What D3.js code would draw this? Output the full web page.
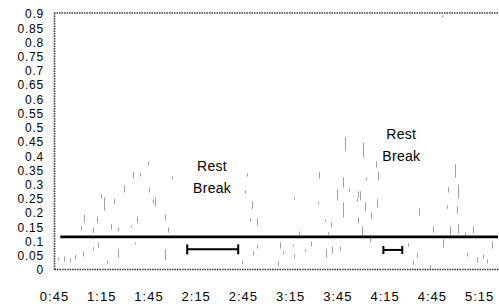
<!DOCTYPE html>
<html>
<head>
<meta charset="utf-8">
<script src="https://cdn.jsdelivr.net/npm/d3@7"></script>
<style>
  html, body { margin: 0; padding: 0; background: #fff; }
  svg { display: block; font-family: "Liberation Sans", Arial, Helvetica, sans-serif; }
</style>
</head>
<body>
<svg id="chart" width="499" height="306"></svg>
<script>
// ---- data ----
// x tick values in minutes of elapsed time, and their labels
const xTickValues = [45, 75, 105, 135, 165, 195, 225, 255, 285, 315];
const xTickLabels = ["0:45", "1:15", "1:45", "2:15", "2:45", "3:15", "3:45", "4:15", "4:45", "5:15"];
const yTickValues = [0, 0.05, 0.1, 0.15, 0.2, 0.25, 0.3, 0.35, 0.4, 0.45, 0.5, 0.55, 0.6, 0.65, 0.7, 0.75, 0.8, 0.85, 0.9];
const yTickLabels = ["0", "0.05", "0.1", "0.15", "0.2", "0.25", "0.3", "0.35", "0.4", "0.45", "0.5", "0.55", "0.6", "0.65", "0.7", "0.75", "0.8", "0.85", "0.9"];

// activity samples: time (min), low value, high value
const activityTime = [47.5, 51.4, 55.2, 58.4, 62.2, 63.4, 64.1, 69.8, 69.8, 72.3, 73.0, 74.9, 76.8, 78.7, 81.2, 83.1, 85.7, 85.7, 89.5, 94.0,
  95.2, 96.5, 97.8, 99.7, 104.8, 105.4, 107.9, 109.2, 115.6, 115.6, 117.5, 120.0, 164.5, 166.4, 167.7, 169.6, 170.9, 171.5, 174.1, 174.1,
  187.4, 188.7, 190.6, 196.9, 197.6, 197.6, 200.8, 204.6, 208.4, 212.8, 213.5, 217.3, 217.9, 219.2, 221.1, 221.7, 224.9, 226.8, 228.7, 228.7,
  230.0, 232.5, 237.6, 238.3, 238.3, 239.5, 240.8, 241.4, 242.7, 243.3, 245.9, 246.5, 249.7, 250.3, 251.0, 270.0, 273.2, 275.8, 277.0, 284.0,
  285.9, 292.3, 294.8, 295.5, 296.7, 299.9, 301.8, 301.2, 301.8, 306.3, 307.6, 311.4, 313.9, 317.7, 320.3, 323.4, 291.7];
const activityLow = [0.032, 0.028, 0.025, 0.035, 0.137, 0.046, 0.165, 0.130, 0.067, 0.165, 0.077, 0.250, 0.207, 0.021, 0.141, 0.232, 0.134, 0.042, 0.271, 0.148,
  0.320, 0.088, 0.165, 0.327, 0.366, 0.271, 0.232, 0.222, 0.172, 0.032, 0.130, 0.316, 0.018, 0.267, 0.327, 0.169, 0.214, 0.049, 0.155, 0.074,
  0.011, 0.074, 0.053, 0.081, 0.246, 0.039, 0.120, 0.063, 0.081, 0.229, 0.320, 0.169, 0.042, 0.123, 0.148, 0.056, 0.243, 0.067, 0.288, 0.183,
  0.418, 0.274, 0.239, 0.253, 0.162, 0.243, 0.113, 0.394, 0.207, 0.313, 0.095, 0.179, 0.359, 0.218, 0.313, 0.081, 0.018, 0.042, 0.190, 0.004,
  0.130, 0.077, 0.214, 0.271, 0.120, 0.323, 0.250, 0.197, 0.127, 0.113, 0.046, 0.127, 0.025, 0.039, 0.021, 0.074, 0.886];
const activityHigh = [0.039, 0.042, 0.035, 0.046, 0.148, 0.060, 0.190, 0.144, 0.074, 0.183, 0.091, 0.260, 0.250, 0.028, 0.155, 0.243, 0.144, 0.067, 0.292, 0.151,
  0.338, 0.091, 0.183, 0.334, 0.376, 0.285, 0.243, 0.250, 0.190, 0.067, 0.144, 0.323, 0.025, 0.274, 0.334, 0.176, 0.236, 0.060, 0.176, 0.084,
  0.025, 0.091, 0.060, 0.084, 0.250, 0.049, 0.130, 0.067, 0.095, 0.232, 0.338, 0.172, 0.067, 0.127, 0.162, 0.077, 0.278, 0.077, 0.320, 0.232,
  0.461, 0.281, 0.246, 0.271, 0.179, 0.271, 0.148, 0.443, 0.232, 0.320, 0.109, 0.197, 0.376, 0.243, 0.341, 0.088, 0.025, 0.056, 0.211, 0.011,
  0.148, 0.102, 0.221, 0.285, 0.148, 0.366, 0.295, 0.218, 0.155, 0.127, 0.056, 0.148, 0.039, 0.049, 0.032, 0.095, 0.890];

// threshold line
const thresholdValue = 0.113;
const thresholdStart = 49;
const thresholdEnd = 327;

// rest breaks: start, end (min), bar value, label position
const breakStart = [129.6, 254.2];
const breakEnd = [162, 266.2];
const breakValue = [0.069, 0.067];
const breakLabelTime = [145.4, 265.6];
const breakLabelValue = [0.345, 0.457];
const breakLabelLines = ["Rest", "Break"];

// ---- drawing ----
const svg = d3.select("#chart");
const x = d3.scaleLinear().domain([45, 327]).range([54, 498]);
const y = d3.scaleLinear().domain([0, 0.9]).range([269, 13]);

// activity samples
svg.append("g").selectAll("line").data(activityTime).join("line")
  .attr("x1", (d) => Math.round(x(d)) + 0.5)
  .attr("x2", (d) => Math.round(x(d)) + 0.5)
  .attr("y1", (d, i) => y(activityLow[i]) + 0.6)
  .attr("y2", (d, i) => y(activityHigh[i]) - 0.6)
  .attr("stroke", "#a0a0a0")
  .attr("stroke-width", 1);

// axes
const xAxis = d3.axisBottom(x).tickValues(xTickValues)
  .tickFormat((d, i) => xTickLabels[i]).tickSize(0).tickPadding(23);
const gx = svg.append("g").attr("transform", `translate(0,${y(0)})`).call(xAxis);
const yAxis = d3.axisLeft(y).tickValues(yTickValues)
  .tickFormat((d, i) => yTickLabels[i]).tickSize(0).tickPadding(10);
const gy = svg.append("g").attr("transform", `translate(${x(45)},0)`).call(yAxis);

[gx, gy].forEach(g => {
  g.select(".domain").attr("stroke", "#333").attr("stroke-width", 1.6).attr("stroke-dasharray", "1.5,1");
  g.selectAll("text").attr("fill", "#000")
    .attr("font-family", "'Liberation Sans', Arial, sans-serif");
});
gx.selectAll("text").attr("font-size", "13px").attr("letter-spacing", "1px");
gy.selectAll("text").attr("font-size", "12px").attr("dy", "0.4em").attr("letter-spacing", "0.8px");

// top border
svg.append("line")
  .attr("x1", x(45)).attr("x2", x(327))
  .attr("y1", y(0.9)).attr("y2", y(0.9))
  .attr("stroke", "#333").attr("stroke-width", 1.6).attr("stroke-dasharray", "1.5,1");

// threshold line
svg.append("line")
  .attr("x1", x(thresholdStart)).attr("x2", x(thresholdEnd))
  .attr("y1", y(thresholdValue)).attr("y2", y(thresholdValue))
  .attr("stroke", "#000").attr("stroke-width", 2.6);

// rest break bars
const capH = [5, 4];
const gb = svg.append("g").attr("stroke", "#000").attr("stroke-width", 2);
breakStart.forEach((s, i) => {
  const yy = y(breakValue[i]);
  gb.append("line").attr("x1", x(s)).attr("x2", x(breakEnd[i])).attr("y1", yy).attr("y2", yy);
  gb.append("line").attr("x1", x(s)).attr("x2", x(s)).attr("y1", yy - capH[i]).attr("y2", yy + capH[i]);
  gb.append("line").attr("x1", x(breakEnd[i])).attr("x2", x(breakEnd[i])).attr("y1", yy - capH[i]).attr("y2", yy + capH[i]);
});

// rest break labels
breakLabelTime.forEach((t, i) => {
  const txt = svg.append("text")
    .attr("x", x(t)).attr("y", y(breakLabelValue[i]))
    .attr("text-anchor", "middle")
    .attr("font-size", "14px").attr("letter-spacing", "0.3px").attr("fill", "#000");
  breakLabelLines.forEach((line, j) => {
    txt.append("tspan").attr("x", x(t)).attr("dy", j === 0 ? 0 : 22).text(line);
  });
});
</script>
</body>
</html>
